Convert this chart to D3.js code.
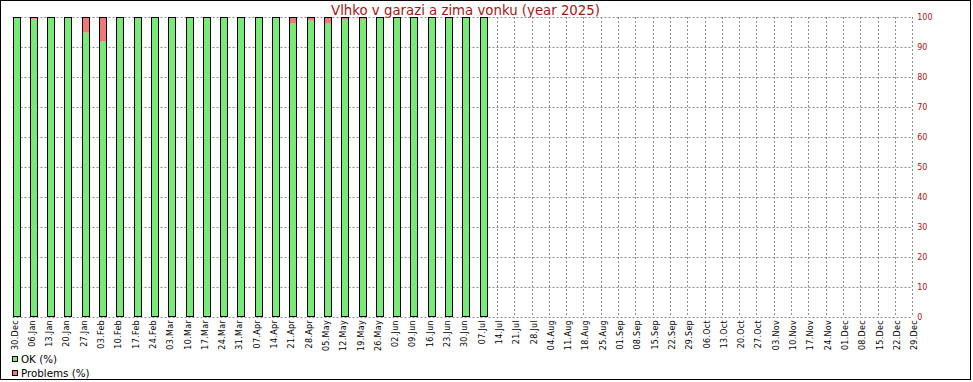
<!DOCTYPE html>
<html>
<head>
<meta charset="utf-8">
<script src="https://cdn.jsdelivr.net/npm/d3@7"></script>
<style>
  html, body { margin: 0; padding: 0; background: #fff; }
  svg { display: block; }
  text { font-family: "DejaVu Sans", sans-serif; }
</style>
</head>
<body>
<svg id="chart" width="973" height="382"></svg>
<script>
const title = "Vlhko v garazi a zima vonku (year 2025)";
const categories = ["30.Dec","06.Jan","13.Jan","20.Jan","27.Jan","03.Feb","10.Feb","17.Feb","24.Feb",
  "03.Mar","10.Mar","17.Mar","24.Mar","31.Mar","07.Apr","14.Apr","21.Apr","28.Apr","05.May","12.May",
  "19.May","26.May","02.Jun","09.Jun","16.Jun","23.Jun","30.Jun","07.Jul","14.Jul","21.Jul","28.Jul",
  "04.Aug","11.Aug","18.Aug","25.Aug","01.Sep","08.Sep","15.Sep","22.Sep","29.Sep","06.Oct","13.Oct",
  "20.Oct","27.Oct","03.Nov","10.Nov","17.Nov","24.Nov","01.Dec","08.Dec","15.Dec","22.Dec","29.Dec"];
const okValues = [100, 99.4, 100, 100, 94.8, 91.8, 100, 100, 100, 100, 100, 100, 100, 100, 100, 100,
  97.8, 98.8, 97.8, 99.1, 99.4, 100, 100, 100, 100, 99.5, 100, 100];
const problemValues = [0, 0.6, 0, 0, 5.2, 8.2, 0, 0, 0, 0, 0, 0, 0, 0, 0, 0,
  2.2, 1.2, 2.2, 0.9, 0.6, 0, 0, 0, 0, 0.5, 0, 0];
const yTicks = [0, 10, 20, 30, 40, 50, 60, 70, 80, 90, 100];
const legendLabels = ["OK (%)", "Problems (%)"];

(function () {
const colors = { ok: "#78ea78", problems: "#ee7878", axis: "#a31515", grid: "#8c8c8c" };

const svg = d3.select("#chart");
const pTop = 17, pBottom = 317, pLeft = 12.5, pRight = 912.2;

const x = d3.scalePoint().domain(categories).range([pLeft, pRight]);
const y = d3.scaleLinear().domain([0, 100]).range([pBottom, pTop]);
const barW = 8;

// frame
svg.append("rect").attr("x", 0.5).attr("y", 0.5).attr("width", 970).attr("height", 379)
  .attr("fill", "none").attr("stroke", "#000").attr("stroke-width", 1);

// title
svg.append("text").attr("x", 465.5).attr("y", 14.5).attr("text-anchor", "middle")
  .attr("font-size", 13.3).attr("fill", colors.axis).text(title);

// grid
const grid = svg.append("g");
grid.selectAll("line.h").data(yTicks).join("line")
  .attr("x1", pLeft).attr("x2", pRight)
  .attr("y1", d => Math.round(y(d)) + 0.5).attr("y2", d => Math.round(y(d)) + 0.5)
  .attr("stroke", colors.grid).attr("stroke-dasharray", "2,2");
grid.selectAll("line.v").data(categories).join("line")
  .attr("x1", d => Math.round(x(d)) + 0.5).attr("x2", d => Math.round(x(d)) + 0.5)
  .attr("y1", pTop).attr("y2", pBottom)
  .attr("stroke", colors.grid).attr("stroke-dasharray", "2,2");

// bars
const bars = svg.append("g");
const barData = okValues.map((v, i) => ({ cat: categories[i], ok: v, pr: problemValues[i] }));
bars.selectAll("rect.ok").data(barData).join("rect")
  .attr("x", d => Math.round(x(d.cat))).attr("width", barW)
  .attr("y", d => y(d.ok)).attr("height", d => y(0) - y(d.ok))
  .attr("fill", colors.ok);
bars.selectAll("rect.pr").data(barData).join("rect")
  .attr("x", d => Math.round(x(d.cat))).attr("width", barW)
  .attr("y", d => y(d.ok + d.pr)).attr("height", d => y(d.ok) - y(d.ok + d.pr))
  .attr("fill", colors.problems);
bars.selectAll("rect.outline").data(barData).join("rect")
  .attr("x", d => Math.round(x(d.cat)) + 0.5).attr("width", barW - 1)
  .attr("y", d => y(d.ok + d.pr) + 0.5).attr("height", d => y(0) - y(d.ok + d.pr) - 1)
  .attr("fill", "none").attr("stroke", "#000").attr("stroke-width", 1);

// right axis
const yAxis = svg.append("g").attr("transform", `translate(${pRight + 2},0)`)
  .call(d3.axisRight(y).tickValues(yTicks).tickSize(0).tickPadding(3));
yAxis.select(".domain").remove();
yAxis.selectAll("text").attr("font-family", "DejaVu Sans").attr("font-size", 8)
  .attr("fill", colors.axis);

// x axis
const xAxis = svg.append("g").attr("transform", `translate(0,${pBottom})`)
  .call(d3.axisBottom(x).tickSize(0));
xAxis.select(".domain").remove();
xAxis.selectAll(".tick").attr("transform", d => `translate(${Math.round(x(d))},0)`);
xAxis.selectAll("text")
  .attr("font-family", "DejaVu Sans").attr("font-size", 8).attr("fill", "#000")
  .attr("letter-spacing", 0.3)
  .attr("transform", "rotate(-90)")
  .attr("text-anchor", "end").attr("x", -3).attr("y", 4.5).attr("dy", 0);

// legend
const legend = svg.append("g");
const legendColors = [colors.ok, colors.problems];
legendLabels.forEach((lab, i) => {
  const ly = 356 + i * 14;
  legend.append("rect").attr("x", 12.5).attr("y", ly + 0.5).attr("width", 5).attr("height", 5)
    .attr("fill", legendColors[i]).attr("stroke", "#000").attr("stroke-width", 1);
  legend.append("text").attr("x", 21).attr("y", ly + 6.5).attr("font-size", 10.3)
    .attr("fill", "#000").text(lab);
});
})();
</script>
</body>
</html>
